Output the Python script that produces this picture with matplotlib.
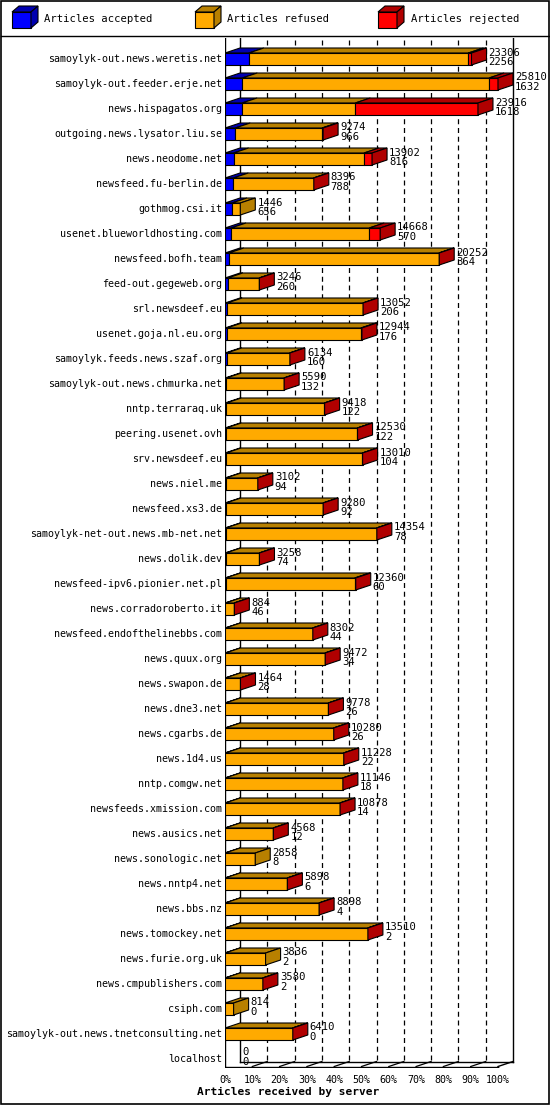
import matplotlib
matplotlib.use("Agg")
import matplotlib.pyplot as plt
from matplotlib.patches import Polygon, Rectangle

servers = ["samoylyk-out.news.weretis.net","samoylyk-out.feeder.erje.net","news.hispagatos.org",
"outgoing.news.lysator.liu.se","news.neodome.net","newsfeed.fu-berlin.de","gothmog.csi.it",
"usenet.blueworldhosting.com","newsfeed.bofh.team","feed-out.gegeweb.org","srl.newsdeef.eu",
"usenet.goja.nl.eu.org","samoylyk.feeds.news.szaf.org","samoylyk-out.news.chmurka.net",
"nntp.terraraq.uk","peering.usenet.ovh","srv.newsdeef.eu","news.niel.me","newsfeed.xs3.de",
"samoylyk-net-out.news.mb-net.net","news.dolik.dev","newsfeed-ipv6.pionier.net.pl",
"news.corradoroberto.it","newsfeed.endofthelinebbs.com","news.quux.org","news.swapon.de",
"news.dne3.net","news.cgarbs.de","news.1d4.us","nntp.comgw.net","newsfeeds.xmission.com",
"news.ausics.net","news.sonologic.net","news.nntp4.net","news.bbs.nz","news.tomockey.net",
"news.furie.org.uk","news.cmpublishers.com","csiph.com","samoylyk-out.news.tnetconsulting.net","localhost"]
offered = [23306,25810,23916,9274,13902,8396,1446,14668,20252,3246,13052,12944,6134,5590,9418,12530,
13010,3102,9280,14354,3258,12360,884,8302,9472,1464,9778,10280,11228,11146,10878,4568,2858,5898,
8898,13510,3836,3580,814,6410,0]
accepted = [2256,1632,1618,966,816,788,656,570,364,260,206,176,160,132,122,122,104,94,92,78,74,60,46,
44,34,28,26,26,22,18,14,12,8,6,4,2,2,2,0,0,0]
rejected = [300,850,11600,100,760,20,0,1040,30,20,20,100,20,20,20,20,20,20,20,20,20,100,20,20,20,20,
20,20,20,20,20,20,0,20,20,20,0,20,0,20,0]
pct_ticks = ["0%","10%","20%","30%","40%","50%","60%","70%","80%","90%","100%"]

W, H = 550, 1105
fig = plt.figure(figsize=(W/100, H/100), dpi=100)
MONO = "DejaVu Sans Mono"
fs = 7.2

axL, axR, axT, axB = 225, 545, 38, 1068
ax = fig.add_axes([axL/W, 1-axB/H, (axR-axL)/W, (axB-axT)/H])
vmax = max(offered)
ppx = 273.0/vmax
ax.set_xlim(0, (axR-axL)/ppx)
row0, sp = 59, 25
ax.set_ylim((axB-row0)/sp, (axT-row0)/sp)
ax.axis("off")
ax.patch.set_alpha(0)

dx = 15/ppx; dy = 5/sp; hh = 6/sp
n = len(servers)
floor = n-1+0.3
for k in range(1, 10):
    x = k*vmax/10
    ax.plot([x+dx, x+dx], [-0.75, floor-dy], ls=(0,(4,3)), color="black", lw=0.9, zorder=0)
    ax.plot([x, x+dx], [floor, floor-dy], color="black", lw=0.9, zorder=0)
ax.plot([dx, dx], [-0.84, floor-dy], color="black", lw=1, zorder=0)
ax.plot([0, 0], [-0.84, floor], color="black", lw=1, zorder=0)
xr = (513-axL)/ppx
ax.plot([xr, xr], [-0.84, floor-dy], color="black", lw=1, zorder=0)
ax.plot([0, vmax*1.0], [floor, floor], color="black", lw=1)
ax.plot([dx, xr], [floor-dy, floor-dy], color="black", lw=1)
ax.plot([vmax, xr], [floor, floor-dy], color="black", lw=1)
ax.plot([0, -1.5*dx], [floor, floor+3*dy], color="black", lw=1)
ax.plot([0, 0], [floor, floor+0.5], color="black", lw=1)

cols = [("#0000ff", "#0000b0"), ("#ffaa00", "#b88000"), ("#ff0000", "#b00000")]
for i in range(n):
    refused = max(offered[i]-accepted[i]-rejected[i], 0)
    segs = [accepted[i], refused, rejected[i]]
    x0 = 0
    y1, y0 = i+hh, i-hh
    last = None
    for v, (cf, ct) in zip(segs, cols):
        if v <= 0:
            continue
        ax.add_patch(Rectangle((x0, y0), v, 2*hh, fc=cf, ec="black", lw=0.8, zorder=3))
        ax.add_patch(Polygon([(x0, y0), (x0+v, y0), (x0+v+dx, y0-dy), (x0+dx, y0-dy)],
                             closed=True, fc=ct, ec="black", lw=0.8, zorder=2))
        x0 += v
        last = ct
    if last is not None:
        ax.add_patch(Polygon([(x0, y0), (x0+dx, y0-dy), (x0+dx, y1-dy), (x0, y1)],
                             closed=True, fc=last, ec="black", lw=0.8, zorder=4))
    tx = x0 + dx + 2/ppx
    ax.text(tx, i-hh-dy-0.02, f"{offered[i]}\n{accepted[i]}", fontsize=fs+0.4, family=MONO,
            va="top", ha="left", linespacing=0.95, zorder=5)
    ax.text(-3/ppx, i, servers[i], fontsize=fs, family=MONO, va="center", ha="right")

for k, lab in enumerate(pct_ticks):
    x = k*vmax/10
    ax.text(x, floor+0.55, lab, fontsize=fs, family=MONO, ha="center", va="center")
    if k > 0:
        ax.plot([x, x], [floor, floor+0.25], color="black", lw=1)
fig.text(288/W, 1-1092/H, "Articles received by server", fontsize=8, family=MONO,
         weight="bold", ha="center", va="center")

ov = fig.add_axes([0, 0, 1, 1]); ov.set_xlim(0, W); ov.set_ylim(H, 0); ov.axis("off")
ov.patch.set_alpha(0)
ov.add_patch(Rectangle((1, 1), W-2, H-2, fill=False, ec="black", lw=1.2))
ov.plot([1, W-1], [36, 36], color="black", lw=1)
for bx, tx_, lab, (cf, ct) in [(12, 44, "Articles accepted", cols[0]),
                                (195, 227, "Articles refused", cols[1]),
                                (378, 411, "Articles rejected", cols[2])]:
    ov.add_patch(Rectangle((bx, 12), 19, 16, fc=cf, ec="black", lw=0.8))
    ov.add_patch(Polygon([(bx, 12), (bx+19, 12), (bx+26, 6), (bx+7, 6)], fc=ct, ec="black", lw=0.8))
    ov.add_patch(Polygon([(bx+19, 12), (bx+26, 6), (bx+26, 22), (bx+19, 28)], fc=ct, ec="black", lw=0.8))
    ov.text(tx_, 19, lab, fontsize=fs+0.4, family=MONO, va="center", ha="left")

fig.savefig("out.png", dpi=100, facecolor="white")
